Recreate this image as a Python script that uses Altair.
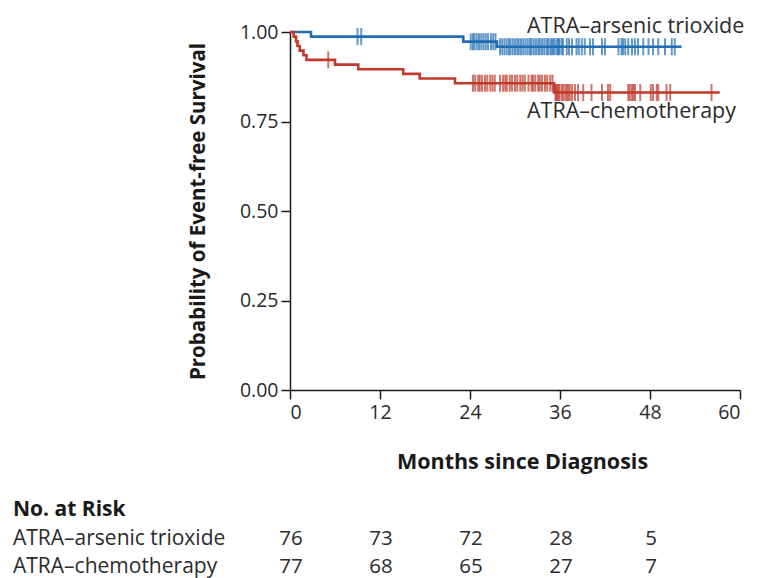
import altair as alt
import numpy as np
import pandas as pd

BLUE = "#1f6eb3"
RED = "#c0392b"
TEXT = "#2b2b2b"
AXIS = "#1a1a1a"
FONT = "Open Sans"

# Kaplan-Meier step curves (month of change, survival level after it)
blue_time = [0, 2.8, 23.1, 27.6, 52.2]
blue_surv = [1.0, 0.987, 0.973, 0.959, 0.959]
red_time = [0, 0.5, 0.8, 1.0, 1.3, 1.8, 2.2, 6.0, 9.1, 15.1, 17.3, 22.0, 35.2, 57.3]
red_surv = [1.0, 0.987, 0.974, 0.961, 0.948, 0.935, 0.922, 0.909, 0.896,
            0.883, 0.870, 0.857, 0.831, 0.831]

# censored observations (months)
blue_cens = [9.0, 9.5,
             24.1, 24.4, 24.6, 24.9, 25.2, 25.5, 25.8, 26.1, 26.4, 26.8,
             27.1, 27.4, 28.0, 28.3, 28.6, 28.9, 29.2, 29.4, 29.7, 30.0,
             30.3, 30.5, 30.8, 31.1, 31.4, 31.7, 32.0, 32.2, 32.5, 32.8,
             33.1, 33.3, 33.6, 33.9, 34.2, 34.4, 34.7, 34.9, 35.1, 35.3,
             35.6, 35.8, 35.9,
             36.2, 36.4, 36.9, 37.2, 37.6, 38.2, 38.5, 38.9, 39.3, 40.0,
             40.4, 41.6, 42.0, 43.8, 44.2, 44.4, 44.7, 45.1, 45.6, 46.0,
             46.4, 47.1, 47.8,
             48.4, 49.1, 50.0, 50.9, 51.3]
red_cens = [5.1,
            24.4, 24.7, 25.1, 25.3, 25.6, 26.0, 26.3, 26.7, 27.0, 27.3,
            28.0, 28.4, 28.7, 28.9, 29.3, 29.6, 30.0, 30.3, 30.7, 31.0,
            31.3, 31.8, 32.2, 32.4, 32.7, 33.1, 33.3, 33.6, 34.0, 34.3,
            34.7, 35.0, 35.4, 35.5, 35.6, 35.8, 35.9,
            36.2, 36.4, 36.7, 36.9, 37.1, 37.3, 37.6, 38.0, 38.4, 39.1,
            40.2, 41.6, 42.4, 42.7, 45.1, 45.3, 45.6, 45.8, 46.0, 46.7,
            48.1, 48.4, 48.9, 49.1, 50.2, 50.7, 56.2]

groups = ["ATRA\u2013arsenic trioxide", "ATRA\u2013chemotherapy"]

# number at risk
risk_months = [0, 12, 24, 36, 48]
risk_arsenic = [76, 73, 72, 28, 5]
risk_chemo = [77, 68, 65, 27, 7]


def curve(times, levels, group):
    return pd.DataFrame({"month": times, "surv": levels, "group": group})


def censor(times, levels, ctimes, group):
    idx = np.searchsorted(np.array(times), np.array(ctimes), side="right") - 1
    return pd.DataFrame({"month": ctimes, "surv": np.array(levels)[idx], "group": group})


curves = pd.concat([curve(blue_time, blue_surv, groups[0]),
                    curve(red_time, red_surv, groups[1])])
ticks = pd.concat([censor(blue_time, blue_surv, blue_cens, groups[0]),
                   censor(red_time, red_surv, red_cens, groups[1])])
risk = pd.concat([
    pd.DataFrame({"month": risk_months, "n": risk_arsenic, "group": groups[0]}),
    pd.DataFrame({"month": risk_months, "n": risk_chemo, "group": groups[1]}),
])

xscale = alt.Scale(domain=[0, 60], nice=False, zero=False)
yscale = alt.Scale(domain=[0, 1], nice=False)
color = alt.Color("group:N", scale=alt.Scale(domain=groups, range=[BLUE, RED]), legend=None)

x_enc = alt.X("month:Q", scale=xscale,
              axis=alt.Axis(values=[0, 12, 24, 36, 48, 60], title="Months since Diagnosis",
                            titleX=232, titleY=72, titleAlign="center", titleBaseline="middle",
                            titleFontSize=21.5, labelPadding=4))
y_enc = alt.Y("surv:Q", scale=yscale,
              axis=alt.Axis(values=[0, 0.25, 0.5, 0.75, 1.0], format=".2f",
                            title="Probability of Event-free Survival",
                            titleX=-92, titleY=179, titleAngle=-90, titleAlign="center",
                            titleBaseline="middle", titleFontSize=20.5, labelPadding=3))

lines = alt.Chart(curves).mark_line(interpolate="step-after", strokeWidth=2.6, clip=False).encode(
    x=x_enc, y=y_enc, color=color, detail="group:N")

cens = alt.Chart(ticks).mark_tick(orient="vertical", size=17, thickness=2).encode(
    x=alt.X("month:Q", scale=xscale), y=alt.Y("surv:Q", scale=yscale), color=color)

txt = dict(align="left", baseline="alphabetic", font=FONT, fontSize=21.5,
           fontWeight="normal", color=TEXT)
row_txt = dict(txt, fontSize=21)


def one_text(label, px, py, **style):
    return alt.Chart(alt.Data(values=[{"label": label}])).mark_text(**style).encode(
        text="label:N", x=alt.value(px), y=alt.value(py))


lab_arsenic = one_text(groups[0], 237, 1, **txt)
lab_chemo = one_text(groups[1], 237, 86, **txt)
risk_head = one_text("No. at Risk", -277, 484, align="left", baseline="alphabetic", font=FONT,
                     fontSize=21, fontWeight="bold", color=AXIS)
row1 = one_text(groups[0], -277, 513, **row_txt)
row2 = one_text(groups[1], -277, 541, **row_txt)

num_style = dict(align="center", baseline="alphabetic", font=FONT, fontSize=20.5,
                 fontWeight="normal", color=TEXT, dx=1)
num1 = alt.Chart(risk).transform_filter(alt.datum.group == groups[0]).mark_text(**num_style).encode(
    x=alt.X("month:Q", scale=xscale), y=alt.value(513), text="n:Q")
num2 = alt.Chart(risk).transform_filter(alt.datum.group == groups[1]).mark_text(**num_style).encode(
    x=alt.X("month:Q", scale=xscale), y=alt.value(541), text="n:Q")

chart = alt.layer(lines, cens, lab_arsenic, lab_chemo, risk_head, row1, row2, num1, num2).properties(
    width=450, height=358,
    autosize=alt.AutoSizeParams(type="none"),
    padding={"left": 282, "top": 24, "right": 10, "bottom": 188},
).configure_view(stroke=None).configure_axis(
    grid=False, domainColor=AXIS, domainWidth=1.5, tickColor=AXIS, tickWidth=1.5, tickSize=9,
    labelFont=FONT, labelFontSize=19.5, labelColor=TEXT, labelFontWeight="normal",
    titleFont=FONT, titleFontWeight="bold", titleColor=AXIS,
)

chart.save("out.html", embed_options={"renderer": "svg", "actions": False})
